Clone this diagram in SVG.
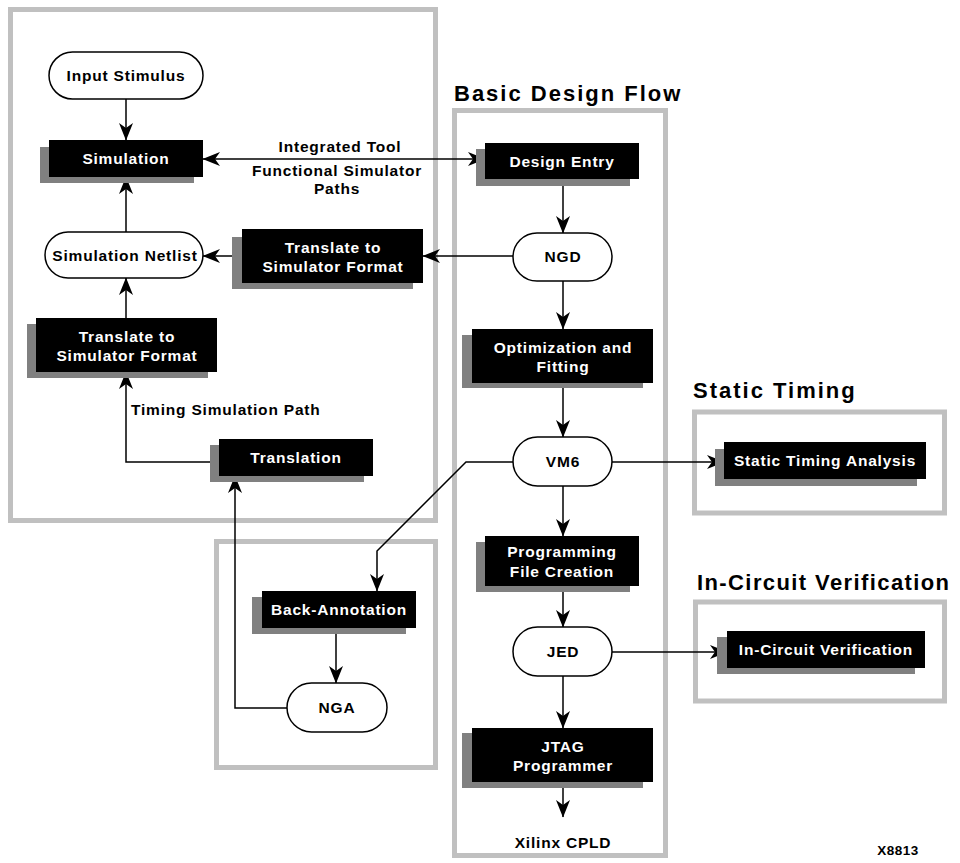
<svg xmlns="http://www.w3.org/2000/svg" width="960" height="863" viewBox="0 0 960 863">
  <defs>
    <style>
      text { font-family: "Liberation Sans", Arial, Helvetica, sans-serif; font-weight: bold; }
      .frame { fill: none; stroke: #c0c0c0; stroke-width: 5; }
      .shadow { fill: #808080; }
      .box { fill: #000; }
      .pill { fill: #fff; stroke: #000; stroke-width: 1.5; }
      .lw { fill: #fff; font-size: 15.5px; letter-spacing: 0.8px; text-anchor: middle; }
      .lb { fill: #000; font-size: 15.5px; letter-spacing: 0.8px; text-anchor: middle; }
      .note { fill: #000; font-size: 15.5px; letter-spacing: 0.8px; }
      .title { fill: #000; font-size: 22px; letter-spacing: 2px; }
      .wire { fill: none; stroke: #000; stroke-width: 1.5; }
      .arrow { marker-end: url(#head); }
    </style>
    <marker id="head" markerUnits="userSpaceOnUse" viewBox="-19 -8 20 16" refX="0" refY="0" markerWidth="20" markerHeight="16" orient="auto-start-reverse">
      <path d="M0.5,0 L-17,-7 L-12,0 L-17,7 Z" fill="#000"/>
    </marker>
  </defs>

  <rect width="960" height="863" fill="#fff"/>

  <!-- grouping frames -->
  <g id="frames">
    <rect class="frame" x="10.5" y="9.5" width="425" height="511"/>
    <rect class="frame" x="454.5" y="110.5" width="211" height="745"/>
    <rect class="frame" x="216.5" y="541.5" width="219" height="226"/>
    <rect class="frame" x="694.5" y="412" width="250" height="101"/>
    <rect class="frame" x="695.5" y="602" width="249" height="99"/>
  </g>

  <!-- section titles -->
  <g id="titles">
    <text class="title" x="454" y="101">Basic Design Flow</text>
    <text class="title" x="693" y="398">Static Timing</text>
    <text class="title" x="697" y="590" style="letter-spacing:1.4px">In-Circuit Verification</text>
  </g>

  <!-- connectors -->
  <g id="connectors">
    <line class="wire arrow" x1="126" y1="99" x2="126" y2="140"/>
    <line class="wire arrow" x1="126" y1="232" x2="126" y2="177"/>
    <line class="wire arrow" x1="203" y1="159" x2="485" y2="159" style="marker-start:url(#head)"/>
    <line class="wire arrow" x1="513" y1="256" x2="423" y2="256"/>
    <line class="wire arrow" x1="242" y1="256" x2="203" y2="256"/>
    <line class="wire arrow" x1="126" y1="318" x2="126" y2="278"/>
    <polyline class="wire arrow" points="219,462 126,462 126,372"/>
    <polyline class="wire arrow" points="287,708 235,708 235,476"/>
    <polyline class="wire arrow" points="513,462 466,462 377,551 377,591"/>
    <line class="wire arrow" x1="336" y1="628" x2="336" y2="683"/>
    <line class="wire arrow" x1="563" y1="179" x2="563" y2="233"/>
    <line class="wire arrow" x1="563" y1="281" x2="563" y2="329"/>
    <line class="wire arrow" x1="563" y1="383" x2="563" y2="437"/>
    <line class="wire arrow" x1="563" y1="486" x2="563" y2="536"/>
    <line class="wire arrow" x1="563" y1="586" x2="563" y2="627"/>
    <line class="wire arrow" x1="563" y1="676" x2="563" y2="728"/>
    <line class="wire arrow" x1="563" y1="782" x2="563" y2="817"/>
    <line class="wire arrow" x1="612" y1="462" x2="724" y2="462"/>
    <line class="wire arrow" x1="612" y1="652" x2="727" y2="652"/>
  </g>

  <!-- connector labels -->
  <g id="connector-labels">
    <text class="lb" x="340" y="152">Integrated Tool</text>
    <text class="lb" x="337" y="176">Functional Simulator</text>
    <text class="lb" x="337" y="194">Paths</text>
    <text class="note" x="131" y="415">Timing Simulation Path</text>
  </g>

  <!-- nodes -->
  <g id="input-stimulus">
    <rect class="pill" x="49" y="52" width="154" height="47" rx="23.5"/>
    <text class="lb" x="126" y="81">Input Stimulus</text>
  </g>

  <g id="simulation">
    <rect class="shadow" x="40" y="147" width="154" height="36"/>
    <rect class="box" x="49" y="140" width="154" height="37"/>
    <text class="lw" x="126" y="164">Simulation</text>
  </g>

  <g id="simulation-netlist">
    <rect class="pill" x="45" y="232" width="158" height="46" rx="23"/>
    <text class="lb" x="125" y="261">Simulation Netlist</text>
  </g>

  <g id="translate-functional">
    <rect class="shadow" x="232" y="237" width="181" height="52"/>
    <rect class="box" x="242" y="229" width="181" height="54"/>
    <text class="lw" x="333" y="253">Translate to</text>
    <text class="lw" x="333" y="272">Simulator Format</text>
  </g>

  <g id="translate-timing">
    <rect class="shadow" x="27" y="324" width="181" height="54"/>
    <rect class="box" x="36" y="318" width="181" height="54"/>
    <text class="lw" x="127" y="342">Translate to</text>
    <text class="lw" x="127" y="361">Simulator Format</text>
  </g>

  <g id="translation">
    <rect class="shadow" x="210" y="445" width="154" height="37"/>
    <rect class="box" x="219" y="439" width="154" height="37"/>
    <text class="lw" x="296" y="463">Translation</text>
  </g>

  <g id="back-annotation">
    <rect class="shadow" x="252" y="597" width="154" height="37"/>
    <rect class="box" x="262" y="591" width="154" height="37"/>
    <text class="lw" x="339" y="615">Back-Annotation</text>
  </g>

  <g id="nga">
    <rect class="pill" x="287" y="683" width="100" height="49" rx="24.5"/>
    <text class="lb" x="337" y="713">NGA</text>
  </g>

  <g id="design-entry">
    <rect class="shadow" x="476" y="149" width="154" height="37"/>
    <rect class="box" x="485" y="143" width="154" height="36"/>
    <text class="lw" x="562" y="167">Design Entry</text>
  </g>

  <g id="ngd">
    <rect class="pill" x="513" y="233" width="99" height="48" rx="24"/>
    <text class="lb" x="563" y="262">NGD</text>
  </g>

  <g id="optimization-fitting">
    <rect class="shadow" x="462" y="335" width="181" height="53"/>
    <rect class="box" x="472" y="329" width="181" height="54"/>
    <text class="lw" x="563" y="353">Optimization and</text>
    <text class="lw" x="563" y="372">Fitting</text>
  </g>

  <g id="vm6">
    <rect class="pill" x="513" y="437" width="99" height="49" rx="24.5"/>
    <text class="lb" x="563" y="467">VM6</text>
  </g>

  <g id="programming-file-creation">
    <rect class="shadow" x="476" y="542" width="154" height="50"/>
    <rect class="box" x="485" y="536" width="154" height="50"/>
    <text class="lw" x="562" y="557">Programming</text>
    <text class="lw" x="562" y="577">File Creation</text>
  </g>

  <g id="jed">
    <rect class="pill" x="513" y="627" width="99" height="49" rx="24.5"/>
    <text class="lb" x="563" y="657">JED</text>
  </g>

  <g id="jtag-programmer">
    <rect class="shadow" x="462" y="733" width="181" height="55"/>
    <rect class="box" x="472" y="728" width="181" height="54"/>
    <text class="lw" x="563" y="752">JTAG</text>
    <text class="lw" x="563" y="771">Programmer</text>
  </g>

  <g id="xilinx-cpld">
    <text class="lb" x="563" y="848">Xilinx CPLD</text>
  </g>

  <g id="static-timing-analysis">
    <rect class="shadow" x="715" y="449" width="202" height="37"/>
    <rect class="box" x="724" y="442" width="202" height="37"/>
    <text class="lw" x="825" y="466">Static Timing Analysis</text>
  </g>

  <g id="in-circuit-verification">
    <rect class="shadow" x="717" y="637" width="198" height="37"/>
    <rect class="box" x="727" y="631" width="198" height="37"/>
    <text class="lw" x="826" y="655">In-Circuit Verification</text>
  </g>

  <text x="898" y="855" font-size="13.5" letter-spacing="0.5" text-anchor="middle" fill="#000">X8813</text>
</svg>
